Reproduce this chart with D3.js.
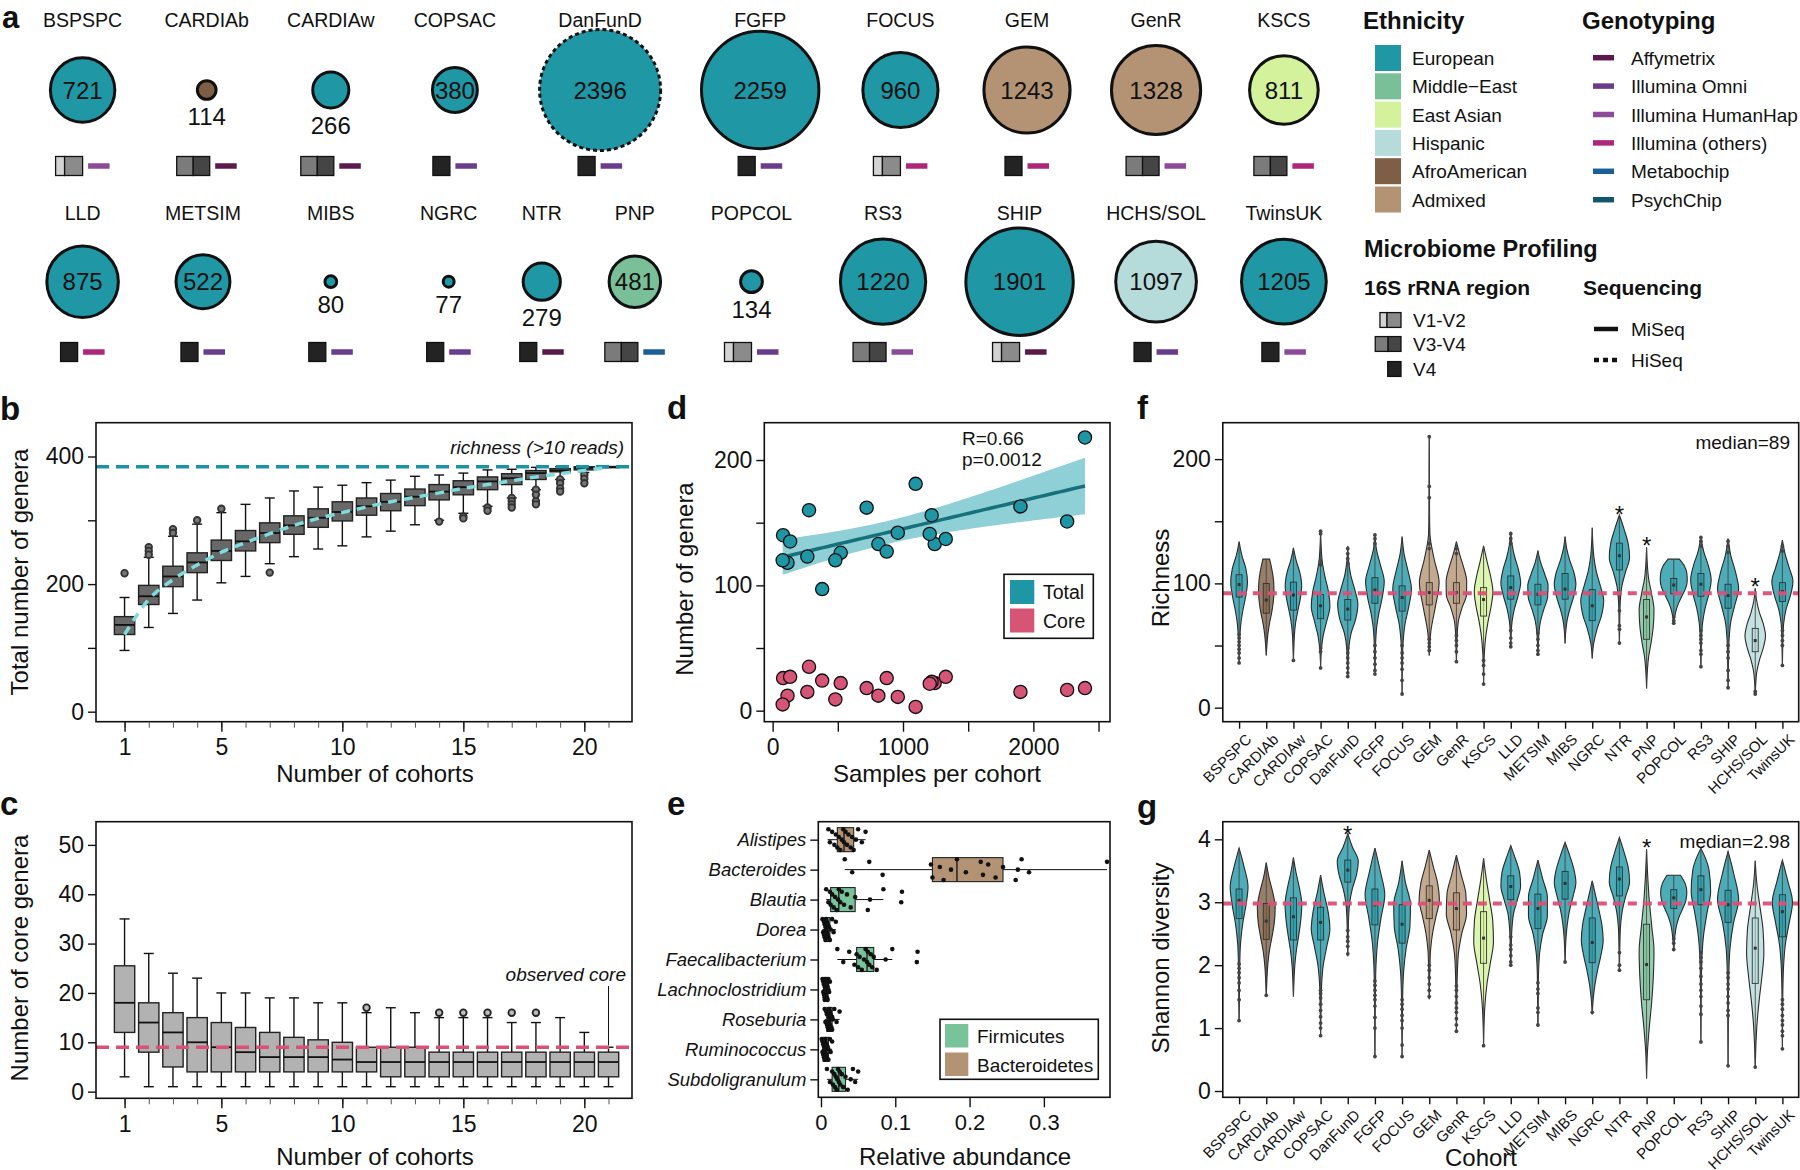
<!DOCTYPE html>
<html>
<head>
<meta charset="utf-8">
<title>Cohort overview</title>
<script src="https://cdn.jsdelivr.net/npm/d3@7"></script>
<style>
  body { margin: 0; background: #fff; }
</style>
</head>
<body>
<script>
var font = '"Liberation Sans", Arial, Helvetica, sans-serif';

// ---------- cohorts (panel a, d, f, g) ----------
var cohorts = ["BSPSPC", "CARDIAb", "CARDIAw", "COPSAC", "DanFunD", "FGFP", "FOCUS", "GEM", "GenR", "KSCS",
  "LLD", "METSIM", "MIBS", "NGRC", "NTR", "PNP", "POPCOL", "RS3", "SHIP", "HCHS/SOL", "TwinsUK"];
var sampleSize = [721, 114, 266, 380, 2396, 2259, 960, 1243, 1328, 811,
  875, 522, 80, 77, 279, 481, 134, 1220, 1901, 1097, 1205];
var ethnicity = ["European", "AfroAmerican", "European", "European", "European", "European", "European", "Admixed", "Admixed", "East Asian",
  "European", "European", "European", "European", "European", "Middle\u2212East", "European", "European", "European", "Hispanic", "European"];
var region16S = ["V1-V2", "V3-V4", "V3-V4", "V4", "V4", "V4", "V1-V2", "V4", "V3-V4", "V3-V4",
  "V4", "V4", "V4", "V4", "V4", "V3-V4", "V1-V2", "V3-V4", "V1-V2", "V4", "V4"];
var genotyping = ["Illumina HumanHap", "Affymetrix", "Affymetrix", "Illumina Omni", "Illumina Omni", "Illumina Omni", "Illumina (others)", "Illumina (others)", "Illumina HumanHap", "Illumina (others)",
  "Illumina (others)", "Illumina Omni", "Illumina Omni", "Illumina Omni", "Affymetrix", "Metabochip", "Illumina Omni", "Illumina HumanHap", "Affymetrix", "Illumina Omni", "Illumina HumanHap"];
var sequencing = ["MiSeq", "MiSeq", "MiSeq", "MiSeq", "HiSeq", "MiSeq", "MiSeq", "MiSeq", "MiSeq", "MiSeq",
  "MiSeq", "MiSeq", "MiSeq", "MiSeq", "MiSeq", "MiSeq", "MiSeq", "MiSeq", "MiSeq", "MiSeq", "MiSeq"];

var ethnicityNames = ["European", "Middle\u2212East", "East Asian", "Hispanic", "AfroAmerican", "Admixed"];
var ethnicityColors = ["#1f97a5", "#79bf98", "#d3f29b", "#b6dbdb", "#7e5f45", "#b39373"];
var genotypingNames = ["Affymetrix", "Illumina Omni", "Illumina HumanHap", "Illumina (others)", "Metabochip", "PsychChip"];
var genotypingColors = ["#5b1a4b", "#6a3d8c", "#8c4a98", "#ae2679", "#1b5f97", "#13566b"];
var regionNames = ["V1-V2", "V3-V4", "V4"];
var sequencingNames = ["MiSeq", "HiSeq"];

// ---------- panel b: total genera by number of cohorts ----------
var nCohorts = [1, 2, 3, 4, 5, 6, 7, 8, 9, 10, 11, 12, 13, 14, 15, 16, 17, 18, 19, 20, 21];
var bQ1 = [121, 168, 196, 218, 237, 252, 265, 278, 289, 299, 308, 315, 323, 332, 340, 348, 356, 364, 376, 379, 384];
var bMed = [136, 181, 212, 234, 252, 267, 280, 292, 304, 313, 322, 329, 337, 345, 352, 361, 366, 374, 378, 382, 384];
var bQ3 = [149, 198, 228, 249, 269, 284, 296, 307, 318, 329, 335, 342, 349, 356, 362, 368, 373, 378, 381, 384, 384];
var bLo = [96, 132, 154, 175, 202, 212, 232, 243, 255, 260, 274, 283, 293, 300, 311, 322, 335, 348, 364, 375, 384];
var bHi = [179, 242, 275, 294, 312, 325, 335, 346, 352, 355, 359, 363, 369, 371, 374, 379, 380, 383, 384, 384, 384];
var bOut = [[217], [258, 252, 246], [286, 280], [300], [318], [], [218], [], [], [], [], [], [], [298],
  [306, 303], [320, 315], [335, 330, 325, 320], [348, 340, 330, 325], [364, 358, 350, 345], [371, 365, 358], []];
var bTrend = [121, 176, 207, 230, 250, 265, 279, 292, 303, 312, 321, 329, 336, 343, 350, 356, 362, 368, 373, 378, 383];
var bRichness = 384;

// ---------- panel c: core genera by number of cohorts ----------
var cQ1 = [12, 8, 5, 4, 4, 4, 4, 4, 4, 4, 4, 3, 3, 3, 3, 3, 3, 3, 3, 3, 3];
var cMed = [18, 14, 12, 10, 9, 8, 7, 7, 7, 6.5, 6, 6, 6, 6, 6, 6, 6, 6, 6, 6, 6];
var cQ3 = [25.5, 18, 16, 15, 14, 13, 12, 11, 10.5, 10, 9, 9, 9, 8, 8, 8, 8, 8, 8, 8, 8];
var cLo = [3, 1, 1, 1, 1, 1, 1, 1, 1, 1, 1, 1, 1, 1, 1, 1, 1, 1, 1, 1, 1];
var cHi = [35, 28, 24, 23, 20, 20, 19, 19, 18, 18, 16, 17, 16, 15, 15, 15, 14, 14, 15, 12, 9];
var cOut = [[], [], [], [], [], [], [], [], [], [], [17], [], [], [16], [16], [16], [16], [16], [], [], []];
var cObserved = 9;

// ---------- panel d: genera vs samples per cohort ----------
var dTotal = [162, 118, 123, 97, 218, 151, 142, 133, 137, 133, 127, 126, 140, 120, 160, 120, 135, 156, 163, 181, 141];
var dCore = [18, 12, 15, 24, 18, 16.5, 11, 22, 27, 12, 26, 22, 26, 5, 35, 9, 27, 23, 15, 3, 21.5];
var dStats = ["R=0.66", "p=0.0012"];

// ---------- panel e: relative abundance of core genera ----------
var genera = ["Alistipes", "Bacteroides", "Blautia", "Dorea", "Faecalibacterium", "Lachnoclostridium", "Roseburia", "Ruminococcus", "Subdoligranulum"];
var genusPhylum = ["Bacteroidetes", "Bacteroidetes", "Firmicutes", "Firmicutes", "Firmicutes", "Firmicutes", "Firmicutes", "Firmicutes", "Firmicutes"];
var phylumNames = ["Firmicutes", "Bacteroidetes"];
var phylumColors = ["#79c39a", "#b39373"];
var eQ1 = [0.022, 0.150, 0.013, 0.005, 0.048, 0.004, 0.008, 0.003, 0.015];
var eMed = [0.031, 0.183, 0.024, 0.008, 0.062, 0.0065, 0.011, 0.006, 0.024];
var eQ3 = [0.044, 0.245, 0.046, 0.012, 0.071, 0.009, 0.015, 0.010, 0.033];
var eLo = [0.009, 0.032, 0.007, 0.002, 0.022, 0.002, 0.005, 0.001, 0.008];
var eHi = [0.060, 0.385, 0.084, 0.020, 0.096, 0.012, 0.025, 0.015, 0.050];
var ePoints = [
  [0.010, 0.012, 0.015, 0.018, 0.020, 0.022, 0.024, 0.026, 0.028, 0.030, 0.031, 0.033, 0.035, 0.037, 0.040, 0.042, 0.044, 0.047, 0.050, 0.055, 0.060],
  [0.032, 0.042, 0.065, 0.083, 0.148, 0.150, 0.160, 0.165, 0.175, 0.183, 0.195, 0.215, 0.218, 0.225, 0.235, 0.245, 0.262, 0.265, 0.270, 0.280, 0.385],
  [0.007, 0.010, 0.012, 0.013, 0.015, 0.017, 0.019, 0.021, 0.023, 0.024, 0.026, 0.028, 0.031, 0.035, 0.040, 0.046, 0.063, 0.066, 0.084, 0.108, 0.109],
  [0.002, 0.003, 0.004, 0.004, 0.005, 0.005, 0.006, 0.006, 0.007, 0.007, 0.008, 0.008, 0.009, 0.009, 0.010, 0.011, 0.012, 0.013, 0.015, 0.017, 0.020],
  [0.022, 0.030, 0.038, 0.045, 0.048, 0.050, 0.052, 0.055, 0.058, 0.060, 0.062, 0.063, 0.065, 0.067, 0.069, 0.071, 0.075, 0.087, 0.096, 0.129, 0.130],
  [0.002, 0.003, 0.003, 0.004, 0.004, 0.005, 0.005, 0.005, 0.006, 0.006, 0.0065, 0.007, 0.007, 0.008, 0.008, 0.009, 0.009, 0.010, 0.010, 0.011, 0.012],
  [0.005, 0.006, 0.007, 0.008, 0.008, 0.009, 0.010, 0.010, 0.011, 0.011, 0.011, 0.012, 0.012, 0.013, 0.014, 0.015, 0.015, 0.016, 0.018, 0.021, 0.025],
  [0.001, 0.002, 0.002, 0.003, 0.003, 0.004, 0.004, 0.005, 0.005, 0.006, 0.006, 0.006, 0.007, 0.007, 0.008, 0.009, 0.010, 0.010, 0.012, 0.013, 0.015],
  [0.008, 0.012, 0.015, 0.016, 0.018, 0.019, 0.020, 0.021, 0.022, 0.023, 0.024, 0.025, 0.026, 0.028, 0.030, 0.033, 0.036, 0.040, 0.043, 0.046, 0.050]
];

// ---------- panel f: richness per cohort (violins) ----------
var fHi = [133.6, 119.5, 128.6, 142, 130, 139.5, 137.6, 218, 133.6, 130.2, 141.6, 126.3, 137.6, 144.8, 155, 129, 119.5, 137.6, 136, 96, 134.9];
var fLo = [36, 42, 38, 33, 25, 26, 11.5, 42, 38, 19.5, 49, 42, 51.7, 39.6, 51.7, 15.5, 67.9, 33, 15.5, 10, 35];
var fDens = [
  [0, .2, .5, .62, .5, .3, .14, .06, .02, 0],
  [.25, .42, .54, .57, .52, .4, .24, .12, .05, 0],
  [0, .2, .48, .61, .52, .33, .16, .07, .03, 0],
  [0, .04, .12, .32, .58, .69, .45, .18, .05, 0],
  [0, .06, .22, .52, .75, .6, .25, .08, .03, 0],
  [0, .12, .42, .69, .55, .3, .12, .05, .02, 0],
  [0, .15, .45, .69, .5, .22, .08, .03, .01, 0],
  [0, .01, .015, .02, .05, .35, .73, .45, .12, 0],
  [0, .25, .55, .76, .75, .42, .15, .06, .03, 0],
  [0, .25, .52, .69, .55, .32, .15, .06, .02, 0],
  [0, .1, .3, .58, .73, .55, .28, .1, .03, 0],
  [0, .2, .5, .75, .72, .45, .2, .08, .03, 0],
  [0, .12, .35, .65, .8, .65, .38, .16, .05, 0],
  [0, .04, .12, .3, .6, .85, .7, .35, .1, 0],
  [0, .35, .65, .75, .45, .18, .07, .03, .02, 0],
  [0, .05, .15, .38, .55, .5, .35, .15, .05, 0],
  [.42, .8, .97, 1.0, .9, .65, .4, .2, .08, 0],
  [0, .2, .55, .76, .58, .3, .12, .05, .02, 0],
  [0, .2, .55, .78, .5, .2, .08, .04, .02, 0],
  [0, .1, .3, .6, .76, .6, .32, .12, .04, 0],
  [0, .2, .5, .78, .6, .28, .1, .04, .02, 0]
];
var fQ1 = [89, 76, 78.5, 71.6, 70.5, 84, 77.7, 82.7, 84, 73.7, 87.3, 82.7, 87.3, 70, 110.8, 55, 91.6, 89.6, 80, 45, 85.4];
var fMed = [99, 86.6, 90.6, 82, 79.3, 94.7, 88.6, 92.6, 92.6, 87, 96.6, 91.3, 95.4, 82, 122.2, 73, 98.7, 99.3, 90.2, 54, 93.4];
var fQ3 = [107, 100, 101, 91, 87, 104.6, 98, 100.6, 100.6, 96.6, 106, 99.3, 108, 95, 132.4, 87, 104, 108, 99.3, 63.8, 100.6];
var fOut = [[36, 40, 44, 47, 50, 53, 56, 59], [], [38], [32, 45, 48, 115, 118, 140, 142],
  [25, 28, 32, 36, 40, 44, 48, 116, 120, 124, 128], [27, 30, 35, 40, 45, 50, 132, 136, 139],
  [11, 22, 31, 36, 40, 44, 50], [218, 178, 169, 132, 128, 55, 52, 49, 46], [37, 45, 50, 54, 58, 124, 128],
  [19, 27, 34, 38], [49, 52, 56, 62, 132, 136, 140], [43, 46, 50, 55, 60], [], [], [52, 63, 66, 78], [],
  [68, 70, 73], [33, 43, 46, 52, 55, 58, 62, 130, 134, 137], [16, 22, 30, 40, 45, 50, 125, 130, 134], [11, 13],
  [34, 50, 54, 58, 62, 126, 130]];
var fStars = [["NTR", 160], ["PNP", 135], ["HCHS/SOL", 102]];
var fMedianLabel = "median=89";
var fMedianLine = 92;

// ---------- panel g: Shannon diversity per cohort (violins) ----------
var gHi = [3.86, 3.63, 3.71, 3.43, 4.09, 3.86, 3.66, 3.83, 3.75, 3.7, 3.9, 3.67, 3.95, 3.34, 4.03, 3.84, 3.43, 3.86, 3.81, 3.66, 3.67];
var gLo = [1.1, 1.5, 1.5, 0.86, 2.14, 0.52, 0.52, 1.46, 0.95, 0.7, 1.98, 1.02, 2.04, 1.22, 1.9, 0.2, 2.22, 0.76, 0.38, 0.36, 0.66];
var gDens = [
  [0, .38, .66, .5, .25, .1, .05, .03, .02, 0],
  [0, .2, .48, .66, .6, .42, .22, .1, .04, 0],
  [0, .2, .45, .62, .55, .4, .22, .1, .04, 0],
  [0, .25, .55, .69, .45, .2, .08, .04, .02, 0],
  [0, .35, .78, .65, .35, .15, .07, .04, .02, 0],
  [0, .4, .73, .45, .2, .08, .04, .02, .01, 0],
  [0, .25, .62, .58, .3, .12, .05, .03, .01, 0],
  [0, .3, .62, .75, .5, .25, .1, .05, .02, 0],
  [0, .35, .7, .75, .4, .15, .07, .04, .02, 0],
  [0, .2, .45, .68, .73, .5, .25, .1, .03, 0],
  [0, .35, .65, .73, .5, .22, .1, .05, .03, 0],
  [0, .35, .7, .7, .35, .13, .05, .03, .02, 0],
  [0, .35, .65, .8, .6, .35, .18, .08, .03, 0],
  [0, .25, .5, .72, .81, .65, .4, .2, .07, 0],
  [0, .35, .65, .75, .45, .2, .08, .04, .02, 0],
  [0, .08, .2, .38, .55, .5, .38, .2, .06, 0],
  [.5, .85, .97, .9, .65, .38, .2, .1, .04, 0],
  [0, .6, .72, .45, .2, .08, .04, .02, .01, 0],
  [0, .45, .78, .4, .15, .06, .03, .02, .01, 0],
  [0, .12, .35, .58, .64, .5, .3, .14, .05, 0],
  [0, .4, .75, .5, .22, .09, .04, .02, .01, 0]
];
var gQ1 = [2.74, 2.41, 2.40, 2.40, 3.32, 2.64, 2.35, 2.74, 2.56, 2.03, 3.04, 2.58, 3.05, 2.04, 3.10, 1.45, 2.90, 2.96, 2.68, 1.71, 2.45];
var gMed = [3.03, 2.70, 2.77, 2.68, 3.51, 2.96, 2.65, 3.03, 2.90, 2.43, 3.25, 2.90, 3.30, 2.36, 3.37, 2.01, 3.07, 3.20, 2.96, 2.27, 2.85];
var gQ3 = [3.21, 2.98, 3.07, 2.92, 3.67, 3.21, 2.96, 3.26, 3.15, 2.85, 3.42, 3.13, 3.49, 2.75, 3.56, 2.65, 3.20, 3.42, 3.19, 2.75, 3.12];
var gOut = [[1.12, 1.45, 1.6, 1.72, 1.8, 1.88, 1.95, 2.02], [1.52], [], [0.88, 1.0, 1.08, 1.18, 1.28, 1.38, 1.48, 1.55, 1.6],
  [2.18, 2.3, 2.38, 2.45, 2.55], [0.55, 1.0, 1.17, 1.35, 1.45, 1.52, 1.6, 1.68, 1.75], [0.55, 0.73, 1.0, 1.12, 1.2, 1.3, 1.38, 1.45],
  [1.5, 1.6, 1.7, 1.8, 1.92, 2.0], [0.95, 1.05, 1.15, 1.25, 1.32, 1.4, 1.5, 1.6, 1.67], [0.72], [2.0, 2.05, 2.15, 2.25, 2.32, 2.45],
  [1.05, 1.25, 1.32, 1.55, 1.62, 1.72], [2.05], [1.25], [1.92, 2.0, 2.2], [], [2.25, 2.35, 2.42],
  [0.78, 1.22, 1.35, 1.5, 1.6, 1.7, 1.82, 1.95, 2.05, 2.12, 2.2], [0.4, 1.2, 1.28, 1.4, 1.5, 1.62, 1.7, 1.8, 1.88], [0.38],
  [0.67, 0.88, 0.95, 1.05, 1.12, 1.2, 1.3, 1.38, 1.45]];
var gStars = [["DanFunD", 4.17], ["PNP", 3.96]];
var gMedianLabel = "median=2.98";
var gMedianLine = 2.98;

// ---------- drawing ----------
var svg = d3.select("body").append("svg").attr("width", 1800).attr("height", 1170)
  .style("font-family", font).style("background", "#fff");

var ethColor = d3.scaleOrdinal().domain(ethnicityNames).range(ethnicityColors);
var genoColor = d3.scaleOrdinal().domain(genotypingNames).range(genotypingColors);
var pink = "#dc4f77";

function txt(x, y, s, size, opts) {
  opts = opts || {};
  return svg.append("text").attr("x", x).attr("y", y).text(s)
    .attr("font-size", size)
    .attr("font-weight", opts.bold ? "bold" : null)
    .attr("font-style", opts.italic ? "italic" : null)
    .attr("text-anchor", opts.anchor || "start")
    .attr("fill", "#111");
}

function frame(x0, y0, x1, y1) {
  svg.append("rect").attr("x", x0).attr("y", y0).attr("width", x1 - x0).attr("height", y1 - y0)
    .attr("fill", "none").attr("stroke", "#111").attr("stroke-width", 1.6);
}

function styleAxis(g, size) {
  g.select(".domain").remove();
  g.selectAll(".tick line").attr("stroke", "#111").attr("stroke-width", 1.4);
  g.selectAll(".tick text").attr("font-size", size).attr("font-family", font).attr("fill", "#111");
  return g;
}

function yTitle(x, y, s) {
  svg.append("text").attr("transform", "translate(" + x + "," + y + ") rotate(-90)")
    .attr("text-anchor", "middle").attr("font-size", 24).attr("fill", "#111").text(s);
}

// panel letters
txt(2, 28, "a", 31, {bold: true});
[["b", 0, 420], ["c", 0, 815], ["d", 667, 419], ["e", 667, 815], ["f", 1137, 419], ["g", 1137, 818]]
  .forEach(function(p) { txt(p[1], p[2], p[0], 33, {bold: true}); });

// ===== panel a =====
var rScale = d3.scaleRadial().domain([58, 2396]).range([0, 60.5]);
var slotX = d3.scaleLinear().domain([0, 1]).range([82.6, 206.7]);
var slots = [0, 1, 2, 3, 4.17, 5.46, 6.59, 7.61, 8.65, 9.68,
  0, 0.97, 2, 2.95, 3.7, 4.45, 5.39, 6.45, 7.55, 8.65, 9.68];
var rows = [{name: 27, cy: 90, marks: 166}, {name: 220, cy: 281.7, marks: 352}];

function regionBox(g, x, yc, region, s) {
  // draws a 16S region box with its left edge at x; returns its width
  var parts;
  if (region === "V1-V2") parts = [[9, "#d3d3d3"], [18, "#8b8b8b"]];
  else if (region === "V3-V4") parts = [[16.5, "#7b7b7b"], [16.5, "#454545"]];
  else parts = [[17, "#232323"]];
  var h = 19 * s, cx = x;
  parts.forEach(function(p) {
    g.append("rect").attr("x", cx).attr("y", yc - h / 2).attr("width", p[0] * s).attr("height", h)
      .attr("fill", p[1]).attr("stroke", "#111").attr("stroke-width", 1.3);
    cx += p[0] * s;
  });
  return cx - x;
}
function regionWidth(region) { return region === "V1-V2" ? 27 : region === "V3-V4" ? 33 : 17; }

var ga = svg.append("g");
cohorts.forEach(function(c, i) {
  var row = rows[i < 10 ? 0 : 1];
  var x = slotX(slots[i]);
  var r = rScale(sampleSize[i]);
  txt(x, row.name, c, 19.5, {anchor: "middle"});
  ga.append("circle").attr("cx", x).attr("cy", row.cy).attr("r", r)
    .attr("fill", ethColor(ethnicity[i])).attr("stroke", "#111").attr("stroke-width", 3)
    .attr("stroke-dasharray", sequencing[i] === "HiSeq" ? "4,3" : null);
  if (r > 21) txt(x, row.cy + 8.5, sampleSize[i], 24, {anchor: "middle"});
  else txt(x, row.cy + r + 25.5, sampleSize[i], 24, {anchor: "middle"});
  var total = regionWidth(region16S[i]) + 5.5 + 21.5;
  var x0 = x - total / 2;
  var w = regionBox(ga, x0, row.marks, region16S[i], 1);
  ga.append("line").attr("x1", x0 + w + 5.5).attr("x2", x0 + w + 27).attr("y1", row.marks).attr("y2", row.marks)
    .attr("stroke", genoColor(genotyping[i])).attr("stroke-width", 5.5);
});

// legends of panel a
txt(1363, 29, "Ethnicity", 24, {bold: true});
txt(1582, 29, "Genotyping", 24, {bold: true});
ethnicityNames.forEach(function(e, i) {
  var y = 45 + i * 28.3;
  svg.append("rect").attr("x", 1375).attr("y", y).attr("width", 26).attr("height", 26).attr("fill", ethColor(e));
  txt(1412, y + 20, e, 19);
});
genotypingNames.forEach(function(e, i) {
  var y = 57.7 + i * 28.4;
  svg.append("line").attr("x1", 1593).attr("x2", 1614).attr("y1", y).attr("y2", y)
    .attr("stroke", genoColor(e)).attr("stroke-width", 5.5);
  txt(1631, y + 7, e, 19);
});
txt(1364, 257, "Microbiome Profiling", 23.5, {bold: true});
txt(1364, 295, "16S rRNA region", 21, {bold: true});
txt(1583, 295, "Sequencing", 21, {bold: true});
var legRegionY = [320, 344, 369];
regionNames.forEach(function(rn, i) {
  var w = regionWidth(rn) * 0.78;
  regionBox(svg, 1401 - w, legRegionY[i], rn, 0.78);
  txt(1413, legRegionY[i] + 7, rn, 19);
});
var legSeqY = [329, 360];
sequencingNames.forEach(function(sn, i) {
  svg.append("line").attr("x1", 1594).attr("x2", 1618).attr("y1", legSeqY[i]).attr("y2", legSeqY[i])
    .attr("stroke", "#111").attr("stroke-width", 4.5)
    .attr("stroke-dasharray", sn === "HiSeq" ? "5,4" : null);
  txt(1631, legSeqY[i] + 7, sn, 19);
});

// ===== panels b and c: boxplots over number of cohorts =====
var bX = d3.scaleLinear().domain([-0.18, 21.97]).range([96, 632]);
var bY = d3.scaleLinear().domain([-15.7, 453]).range([721.7, 422.7]);
var cY = d3.scaleLinear().domain([-1.35, 54.7]).range([1098.3, 821.7]);
var boxHalf = (bX(1) - bX(0)) * 0.42;

function cohortBoxes(yS, q1, med, q3, lo, hi, out, fill, outStyle) {
  var g = svg.append("g");
  nCohorts.forEach(function(k, i) {
    var x = bX(k);
    g.append("line").attr("x1", x).attr("x2", x).attr("y1", yS(lo[i])).attr("y2", yS(hi[i]))
      .attr("stroke", "#111").attr("stroke-width", 1.4);
    [lo[i], hi[i]].forEach(function(v) {
      g.append("line").attr("x1", x - 5).attr("x2", x + 5).attr("y1", yS(v)).attr("y2", yS(v))
        .attr("stroke", "#111").attr("stroke-width", 1.4);
    });
    g.append("rect").attr("x", x - boxHalf).attr("width", boxHalf * 2)
      .attr("y", yS(q3[i])).attr("height", Math.max(1, yS(q1[i]) - yS(q3[i])))
      .attr("fill", fill).attr("stroke", "#222").attr("stroke-width", 1.4);
    g.append("line").attr("x1", x - boxHalf).attr("x2", x + boxHalf).attr("y1", yS(med[i])).attr("y2", yS(med[i]))
      .attr("stroke", "#111").attr("stroke-width", 1.8);
    out[i].forEach(function(v) {
      g.append("circle").attr("cx", x).attr("cy", yS(v)).attr("r", 3.3)
        .attr("fill", outStyle[0]).attr("stroke", outStyle[1]).attr("stroke-width", 1.8);
    });
  });
}

function cohortXAxis(y) {
  var minor = svg.append("g").attr("transform", "translate(0," + y + ")")
    .call(d3.axisBottom(bX).tickValues(nCohorts).tickSize(6).tickFormat(""));
  styleAxis(minor, 22).selectAll(".tick line").attr("stroke", "#555").attr("stroke-width", 1);
  var major = svg.append("g").attr("transform", "translate(0," + y + ")")
    .call(d3.axisBottom(bX).tickValues([1, 5, 10, 15, 20]).tickSize(10).tickPadding(7));
  styleAxis(major, 23);
}

// b
cohortBoxes(bY, bQ1, bMed, bQ3, bLo, bHi, bOut, "#686868", ["#777", "#333"]);
svg.append("line").attr("x1", 96).attr("x2", 632).attr("y1", bY(bRichness)).attr("y2", bY(bRichness))
  .attr("stroke", "#1a94a4").attr("stroke-width", 3.5).attr("stroke-dasharray", "13,7");
svg.append("path").datum(bTrend)
  .attr("d", d3.line().x(function(d, i) { return bX(nCohorts[i]); }).y(function(d) { return bY(d); }).curve(d3.curveMonotoneX))
  .attr("fill", "none").attr("stroke", "#7fdbdc").attr("stroke-width", 3.5).attr("stroke-dasharray", "9,7");
frame(96, 422.7, 632, 721.7);
styleAxis(svg.append("g").attr("transform", "translate(96,0)")
  .call(d3.axisLeft(bY).tickValues([0, 100, 200, 300, 400]).tickSize(8).tickPadding(4)
    .tickFormat(function(d) { return d % 200 === 0 ? d : ""; })), 23);
cohortXAxis(721.7);
txt(624, 454, "richness (>10 reads)", 19, {italic: true, anchor: "end"});
txt(375, 782, "Number of cohorts", 24, {anchor: "middle"});
yTitle(28, 572, "Total number of genera");

// c
cohortBoxes(cY, cQ1, cMed, cQ3, cLo, cHi, cOut, "#b2b2b2", ["#bbb", "#222"]);
svg.append("line").attr("x1", 96).attr("x2", 632).attr("y1", cY(cObserved)).attr("y2", cY(cObserved))
  .attr("stroke", pink).attr("stroke-width", 3.5).attr("stroke-dasharray", "13,7");
svg.append("line").attr("x1", bX(21)).attr("x2", bX(21)).attr("y1", 986).attr("y2", cY(cObserved) - 2)
  .attr("stroke", "#111").attr("stroke-width", 1);
frame(96, 821.7, 632, 1098.3);
styleAxis(svg.append("g").attr("transform", "translate(96,0)")
  .call(d3.axisLeft(cY).tickValues([0, 10, 20, 30, 40, 50]).tickSize(8).tickPadding(4)), 23);
cohortXAxis(1098.3);
txt(626, 981, "observed core", 19, {italic: true, anchor: "end"});
txt(375, 1165, "Number of cohorts", 24, {anchor: "middle"});
yTitle(28, 958, "Number of core genera");

// ===== panel d =====
var dX = d3.scaleLinear().domain([-64, 2588]).range([764.3, 1110]);
var dY = d3.scaleLinear().domain([-8.8, 229.8]).range([721.7, 422.7]);
// linear fit with 95% confidence band
var nD = sampleSize.length;
var mx = d3.mean(sampleSize), my = d3.mean(dTotal);
var sxx = d3.sum(sampleSize, function(x) { return (x - mx) * (x - mx); });
var sxy = d3.sum(sampleSize, function(x, i) { return (x - mx) * (dTotal[i] - my); });
var slope = sxy / sxx, icpt = my - slope * mx;
var sse = d3.sum(sampleSize, function(x, i) { var e = dTotal[i] - (icpt + slope * x); return e * e; });
var se = Math.sqrt(sse / (nD - 2)), tq = 2.093;
var xmin = d3.min(sampleSize), xmax = d3.max(sampleSize);
var fitX = d3.range(0, 61).map(function(k) { return xmin + (xmax - xmin) * k / 60; });
var fit = fitX.map(function(x) {
  var yh = icpt + slope * x, h = tq * se * Math.sqrt(1 / nD + (x - mx) * (x - mx) / sxx);
  return {x: x, y: yh, lo: yh - h, hi: yh + h};
});
svg.append("path").datum(fit)
  .attr("d", d3.area().x(function(d) { return dX(d.x); }).y0(function(d) { return dY(d.lo); }).y1(function(d) { return dY(d.hi); }))
  .attr("fill", "#8fd0d7");
svg.append("path").datum(fit)
  .attr("d", d3.line().x(function(d) { return dX(d.x); }).y(function(d) { return dY(d.y); }))
  .attr("fill", "none").attr("stroke", "#16717c").attr("stroke-width", 3.5);
[[dTotal, "#1e96a5"], [dCore, "#d65577"]].forEach(function(s) {
  svg.append("g").selectAll("circle").data(s[0]).enter().append("circle")
    .attr("cx", function(d, i) { return dX(sampleSize[i]); })
    .attr("cy", function(d) { return dY(d); })
    .attr("r", 6.6).attr("fill", s[1]).attr("stroke", "#111").attr("stroke-width", 1.3);
});
frame(764.3, 422.7, 1110, 721.7);
styleAxis(svg.append("g").attr("transform", "translate(764.3,0)")
  .call(d3.axisLeft(dY).tickValues([0, 50, 100, 150, 200]).tickSize(8).tickPadding(4)
    .tickFormat(function(d) { return d % 100 === 0 ? d : ""; })), 23);
styleAxis(svg.append("g").attr("transform", "translate(0,721.7)")
  .call(d3.axisBottom(dX).tickValues([0, 500, 1000, 1500, 2000, 2500]).tickSize(10).tickPadding(7)
    .tickFormat(function(d) { return d % 1000 === 0 ? d : ""; })), 23);
txt(962, 445, dStats[0], 19);
txt(962, 466, dStats[1], 19);
svg.append("rect").attr("x", 1004).attr("y", 574.3).attr("width", 89.3).attr("height", 64)
  .attr("fill", "#fff").attr("stroke", "#111").attr("stroke-width", 1.6);
[["Total", "#1e96a5"], ["Core", "#d65577"]].forEach(function(l, i) {
  svg.append("rect").attr("x", 1010).attr("y", 580 + i * 28.5).attr("width", 24.3).attr("height", 24)
    .attr("fill", l[1]);
  txt(1043, 599 + i * 28.5, l[0], 19.5);
});
txt(937, 782, "Samples per cohort", 24, {anchor: "middle"});
yTitle(693, 579, "Number of genera");

// ===== panel e =====
var eX = d3.scaleLinear().domain([-0.0036, 0.389]).range([818.3, 1110]);
var eY = d3.scalePoint().domain(genera).range([821.7, 1097.3]).padding(0.6);
var phColor = d3.scaleOrdinal().domain(phylumNames).range(phylumColors);
var ge = svg.append("g");
genera.forEach(function(gn, i) {
  var y = eY(gn), h = 12;
  ge.append("line").attr("x1", eX(eLo[i])).attr("x2", eX(eQ1[i])).attr("y1", y).attr("y2", y).attr("stroke", "#111").attr("stroke-width", 1);
  ge.append("line").attr("x1", eX(eQ3[i])).attr("x2", eX(eHi[i])).attr("y1", y).attr("y2", y).attr("stroke", "#111").attr("stroke-width", 1);
  ge.append("rect").attr("x", eX(eQ1[i])).attr("width", eX(eQ3[i]) - eX(eQ1[i])).attr("y", y - h).attr("height", 2 * h)
    .attr("fill", phColor(genusPhylum[i])).attr("stroke", "#222").attr("stroke-width", 1.1);
  ge.append("line").attr("x1", eX(eMed[i])).attr("x2", eX(eMed[i])).attr("y1", y - h).attr("y2", y + h).attr("stroke", "#111").attr("stroke-width", 1.3);
  ePoints[i].forEach(function(v, k) {
    var jit = ((k * 5) % 9 - 4) * 2.6;
    ge.append("circle").attr("cx", eX(v)).attr("cy", y + jit).attr("r", 2.3).attr("fill", "#111");
  });
});
frame(818.3, 821.7, 1110, 1097.3);
var eAxis = styleAxis(svg.append("g").attr("transform", "translate(818.3,0)")
  .call(d3.axisLeft(eY).tickSize(8).tickPadding(4)), 18.5);
eAxis.selectAll(".tick text").attr("font-style", "italic");
styleAxis(svg.append("g").attr("transform", "translate(0,1097.3)")
  .call(d3.axisBottom(eX).tickValues([0, 0.1, 0.2, 0.3]).tickSize(10).tickPadding(7)
    .tickFormat(function(d) { return d === 0 ? "0" : d3.format(".1f")(d); })), 22);
svg.append("rect").attr("x", 940).attr("y", 1019.3).attr("width", 158.3).attr("height", 60)
  .attr("fill", "#fff").attr("stroke", "#111").attr("stroke-width", 1.6);
phylumNames.forEach(function(p, i) {
  svg.append("rect").attr("x", 945).attr("y", 1024 + i * 28.5).attr("width", 23.3).attr("height", 23.5).attr("fill", phColor(p));
  txt(977, 1043 + i * 28.5, p, 19);
});
txt(965, 1165, "Relative abundance", 24, {anchor: "middle"});

// ===== panels f and g: violins =====
var vX = d3.scalePoint().domain(cohorts).range([1222.8, 1798.7]).padding(0.6);
var vW = d3.scaleLinear().domain([0, 1]).range([0, 13.5]);
var fY = d3.scaleLinear().domain([-11.3, 229.3]).range([721.7, 422.7]);
var gY = d3.scaleLinear().domain([-0.1, 4.28]).range([1097.3, 821.7]);

function violins(yS, hi, lo, dens, q1, med, q3, out, stars, medLine, medLabel, top, bottom) {
  var g = svg.append("g");
  cohorts.forEach(function(c, i) {
    var cx = vX(c), m = dens[i].length;
    var prof = dens[i].map(function(w, j) { return {v: hi[i] - j * (hi[i] - lo[i]) / (m - 1), w: w}; });
    var col = ethColor(ethnicity[i]);
    g.append("path").datum(prof)
      .attr("d", d3.area().curve(d3.curveMonotoneY)
        .y(function(d) { return yS(d.v); })
        .x0(function(d) { return cx - vW(d.w); })
        .x1(function(d) { return cx + vW(d.w); }))
      .attr("fill", col).attr("fill-opacity", 0.8).attr("stroke", "#2a2a2a").attr("stroke-width", 1.1);
    g.append("line").attr("x1", cx).attr("x2", cx).attr("y1", yS(hi[i])).attr("y2", yS(lo[i]))
      .attr("stroke", "#444").attr("stroke-width", 0.9);
    g.append("rect").attr("x", cx - 3).attr("width", 6).attr("y", yS(q3[i])).attr("height", yS(q1[i]) - yS(q3[i]))
      .attr("fill", col).attr("fill-opacity", 0.6).attr("stroke", "#333").attr("stroke-width", 0.9);
    g.append("rect").attr("x", cx - 1.5).attr("width", 3).attr("y", yS(med[i]) - 1.5).attr("height", 3).attr("fill", "#333");
    out[i].forEach(function(v) {
      g.append("circle").attr("cx", cx).attr("cy", yS(v)).attr("r", 1.9).attr("fill", "#444");
    });
  });
  stars.forEach(function(s) { txt(vX(s[0]), yS(s[1]) + 14, "*", 24, {anchor: "middle"}); });
  svg.append("line").attr("x1", 1222.8).attr("x2", 1798.7).attr("y1", yS(medLine)).attr("y2", yS(medLine))
    .attr("stroke", pink).attr("stroke-width", 4).attr("stroke-dasharray", "9,6").attr("stroke-opacity", 0.95);
  frame(1222.8, top, 1798.7, bottom);
  txt(1790, top + 26, medLabel, 19, {anchor: "end"});
  var ax = styleAxis(svg.append("g").attr("transform", "translate(0," + bottom + ")")
    .call(d3.axisBottom(vX).tickSize(7)), 15);
  ax.selectAll(".tick text").attr("x", 0).attr("y", 0).attr("dy", "0.35em")
    .attr("text-anchor", "end").attr("transform", "translate(9,15) rotate(-45)");
}

violins(fY, fHi, fLo, fDens, fQ1, fMed, fQ3, fOut, fStars, fMedianLine, fMedianLabel, 422.7, 721.7);
styleAxis(svg.append("g").attr("transform", "translate(1222.8,0)")
  .call(d3.axisLeft(fY).tickValues([0, 50, 100, 150, 200]).tickSize(8).tickPadding(4)
    .tickFormat(function(d) { return d % 100 === 0 ? d : ""; })), 23);
yTitle(1169, 578, "Richness");

violins(gY, gHi, gLo, gDens, gQ1, gMed, gQ3, gOut, gStars, gMedianLine, gMedianLabel, 821.7, 1097.3);
styleAxis(svg.append("g").attr("transform", "translate(1222.8,0)")
  .call(d3.axisLeft(gY).tickValues([0, 1, 2, 3, 4]).tickSize(8).tickPadding(4).tickFormat(d3.format("d"))), 23);
yTitle(1169, 958, "Shannon diversity");
txt(1481, 1166, "Cohort", 24, {anchor: "middle"});
</script>
</body>
</html>
